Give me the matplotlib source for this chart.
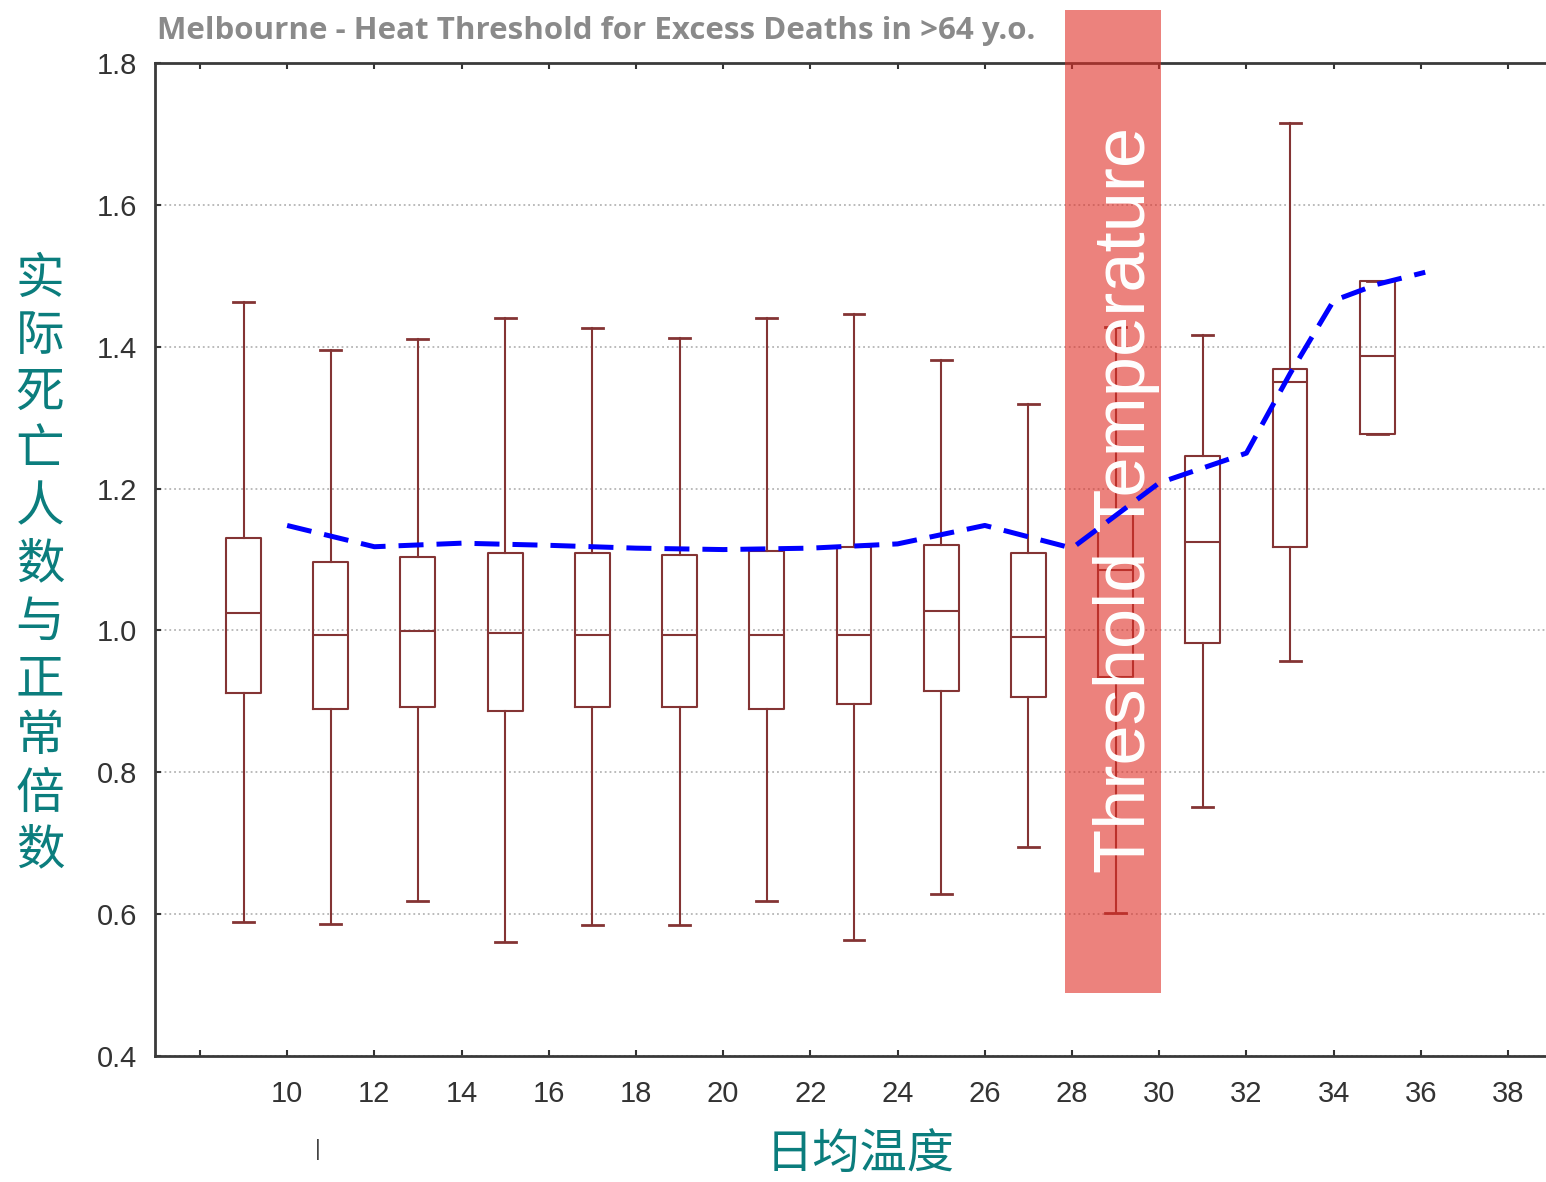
"""Melbourne heat threshold box plot"""

import matplotlib
matplotlib.use('Agg')

import matplotlib.pyplot as plt
from matplotlib.patches import Rectangle

# data
temps = [9, 11, 13, 15, 17, 19, 21, 23, 25, 27, 29, 31, 33, 35]
whis_lo = [0.589, 0.586, 0.619, 0.561, 0.585, 0.585, 0.619, 0.564, 0.628, 0.695, 0.601, 0.751, 0.957, 1.277]
q1 = [0.912, 0.889, 0.892, 0.886, 0.892, 0.892, 0.889, 0.896, 0.915, 0.906, 0.935, 0.982, 1.118, 1.277]
med = [1.025, 0.994, 0.999, 0.996, 0.994, 0.994, 0.994, 0.994, 1.027, 0.991, 1.085, 1.125, 1.350, 1.387]
q3 = [1.130, 1.097, 1.104, 1.109, 1.109, 1.106, 1.112, 1.118, 1.120, 1.109, 1.170, 1.246, 1.369, 1.493]
whis_hi = [1.463, 1.395, 1.411, 1.440, 1.426, 1.412, 1.440, 1.446, 1.381, 1.319, 1.428, 1.416, 1.715, 1.493]

trend_x = [10, 12, 14, 16, 18, 20, 22, 24, 26, 28, 30, 32, 33, 34, 35, 36.1]
trend_y = [1.148, 1.118, 1.123, 1.120, 1.116, 1.114, 1.116, 1.122, 1.148, 1.116, 1.208, 1.250, 1.362, 1.465, 1.488, 1.505]

threshold_lo, threshold_hi = 27.85, 30.03

xticks = list(range(8, 39, 2))
xtick_labels = [''] + [str(t) for t in xticks[1:]]
yticks = [0.4, 0.6, 0.8, 1.0, 1.2, 1.4, 1.6, 1.8]

title = "Melbourne - Heat Threshold for Excess Deaths in >64 y.o."
ylabel = "实际死亡人数与正常倍数"
xlabel = "日均温度"

# formatting
W, H = 1546, 1182
box_c = '#843434'
teal = '#0b7d7d'
tick_c = '#333333'
cjk = ['Noto Sans CJK SC', 'DejaVu Sans']

fig = plt.figure(figsize=(W / 100, H / 100), dpi=100, facecolor='w')
ax = fig.add_axes([155 / W, 1 - 1056 / H, 1 - 155 / W, (1056 - 63) / H])

stats = []
for i in range(len(temps)):
    stats.append(dict(whislo=whis_lo[i], q1=q1[i], med=med[i], q3=q3[i],
                      whishi=whis_hi[i], fliers=[]))
lp = dict(color=box_c, linewidth=1.5)
ax.bxp(stats, positions=temps, widths=0.8, capwidths=0.48, showfliers=False,
       boxprops=lp, whiskerprops=lp, capprops=dict(color=box_c, linewidth=2),
       medianprops=lp, manage_ticks=False, zorder=2)

# threshold band, reaching above the axes
ax.add_patch(Rectangle((threshold_lo, 0.489), threshold_hi - threshold_lo, 1.875 - 0.489,
                       facecolor='#e02f26', alpha=0.6, edgecolor='none',
                       clip_on=False, zorder=3))
ax.text((threshold_lo + threshold_hi) / 2 + 0.3, 1.184, "Threshold Temperature",
        rotation=90, ha='center', va='center', color='w', fontsize=52,
        family='Liberation Sans', zorder=4)

ax.plot(trend_x, trend_y, color='#0000ff', lw=3.6, ls='--', dashes=(5, 2.6),
        zorder=5, clip_on=False)

ax.set_xlim(6.97, 38.87)
ax.set_ylim(0.4, 1.8)
ax.set_xticks(xticks)
ax.set_xticklabels(xtick_labels)
ax.set_yticks(yticks)
ax.set_yticklabels(['%.1f' % v for v in yticks])
ax.yaxis.grid(True, linestyle=':', color='#b5b5b5', linewidth=1.3, zorder=0)
ax.set_axisbelow(True)

ax.tick_params(axis='both', direction='in', length=4.5, width=1.5, color=tick_c,
               labelsize=21, labelcolor=tick_c, top=True)
ax.tick_params(axis='x', pad=17)
ax.tick_params(axis='y', pad=13)
for lab in ax.get_xticklabels() + ax.get_yticklabels():
    lab.set_family('Liberation Sans')

for s in ['left', 'bottom', 'top']:
    ax.spines[s].set_color('#3a3a3a')
    ax.spines[s].set_linewidth(2)
ax.spines['right'].set_visible(False)

fig.text(157 / W, 1 - 39 / H, title, ha='left', va='baseline', fontsize=22.5,
         fontweight='bold', family='Open Sans', color='#8a8a8a')

# vertical stacked y label
for i, ch in enumerate(ylabel):
    fig.text(40 / W, 1 - (279 + i * 57.2) / H, ch, ha='center', va='center',
             fontsize=35, family=cjk, color=teal)

fig.text(860 / W, 1 - 1156 / H, xlabel, ha='center', va='center', fontsize=34,
         family=cjk, color=teal)
fig.text(318 / W, 1 - 1149 / H, '|', ha='center', va='center', fontsize=16,
         family='Liberation Sans', color='#444444')

fig.savefig('out.png', dpi=100, facecolor=fig.get_facecolor())
